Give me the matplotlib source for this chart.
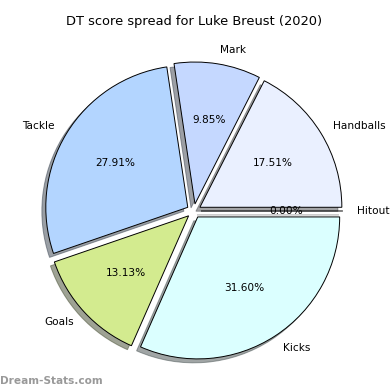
import matplotlib.pyplot as plt

labels = ['Handballs', 'Mark', 'Tackle', 'Goals', 'Kicks', 'Hitout']
values = [17.51, 9.85, 27.91, 13.13, 31.60, 0.0]
colors = ['#eaf0ff', '#c5d8ff', '#b3d5ff', '#d3eb8f', '#dbffff', '#ffffff']
explode = [0.05] * len(values)

fig = plt.figure(figsize=(3.9, 3.9), dpi=100)
ax = fig.add_axes([0.042, 0.004, 0.91, 0.91])
ax.pie(values, labels=labels, colors=colors, explode=explode, shadow=True,
       autopct='%1.2f%%', textprops={'fontsize': 7.6},
       wedgeprops={'edgecolor': 'black', 'linewidth': 0.7})
ax.set_title('DT score spread for Luke Breust (2020)', fontsize=9.4)

fig.text(0.0, 0.015, 'Dream-Stats.com', fontsize=7.6, color='grey',
         alpha=0.8, fontweight='bold')

plt.savefig('out.png')
